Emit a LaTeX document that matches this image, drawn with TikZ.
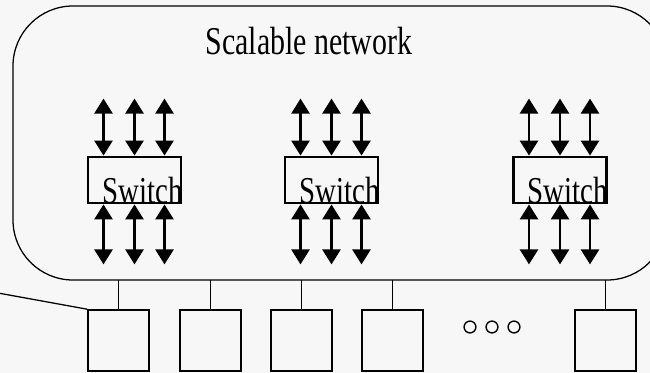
\documentclass[tikz,border=0pt]{standalone}
\usepackage{fontspec}
\setmainfont{Liberation Serif}
\newfontfamily\narrowfont[FakeStretch=0.76]{Liberation Serif}
\usetikzlibrary{arrows.meta,positioning}

\begin{document}
\begin{tikzpicture}[x=0.025cm, y=-0.025cm,
  switchbox/.style={draw, line width=2pt, minimum width=2.325cm, minimum height=1.15cm, inner sep=0pt},
  hostbox/.style={draw, line width=1.1pt, minimum width=1.525cm, minimum height=1.525cm, inner sep=0pt},
  bidir/.style={line width=2pt, {Triangle[width=12.8pt,length=10.7pt]}-{Triangle[width=12.8pt,length=10.7pt]}},
  bigtext/.style={font=\fontsize{28pt}{32pt}\selectfont\narrowfont},
  swtext/.style={font=\fontsize{27pt}{32pt}\selectfont\narrowfont}]
%Frame
\useasboundingbox (0,0) rectangle (650,373);
\fill[white!97!black] (0,0) rectangle (650,373);
\clip (0,0) rectangle (650,373);
% Network cloud, right side runs off the page
\draw[line width=0.9pt] (667,66) arc[start angle=0, end angle=-90, radius=60] -- (73,6)
  arc[start angle=-90, end angle=-180, radius=60] -- (13,220)
  arc[start angle=180, end angle=90, radius=60] -- (607,280)
  arc[start angle=90, end angle=0, radius=60];
\coordinate (netbase) at (13,280);
\node[bigtext, anchor=base] (title) at (309,55) {Scalable network};
% Switches with their ports
\node[switchbox] (sw1) at (134.5,180) {};
\node[switchbox] (sw2) at (331.5,180) {};
\node[switchbox] (sw3) at (560,180) {};
\foreach \s in {1,2,3}{
  \node[swtext, anchor=base] (lbl\s) at ([xshift=0.2cm,yshift=0.03cm]sw\s.south) {Switch};
  \foreach \dx in {-31,0,30}{
    \draw[bidir] ([xshift=\dx*0.025cm]sw\s.north) -- ++(0,-57);   % upper port
    \draw[bidir] ([xshift=\dx*0.025cm]sw\s.south) -- ++(0,60);    % lower port
  }
}
% Hosts below the network
\node[hostbox] (h1) at (118.5,340.5) {};
\node[hostbox] (h2) at (210.5,340.5) {};
\node[hostbox] (h3) at (301.5,340.5) {};
\node[hostbox] (h4) at (392.5,340.5) {};
\node[hostbox] (h5) at (605.5,340.5) {};
\foreach \h in {1,...,5}
  \draw[line width=0.9pt] (h\h.north) -- (h\h.north |- netbase);
\coordinate (lan) at (-2,293);
\draw[line width=0.9pt] (lan) -- (h1.north west);
% More hosts
\foreach \d in {470,492,514}
  \draw[line width=1pt] (\d,327) circle (4.2pt);
\end{tikzpicture}
\end{document}
